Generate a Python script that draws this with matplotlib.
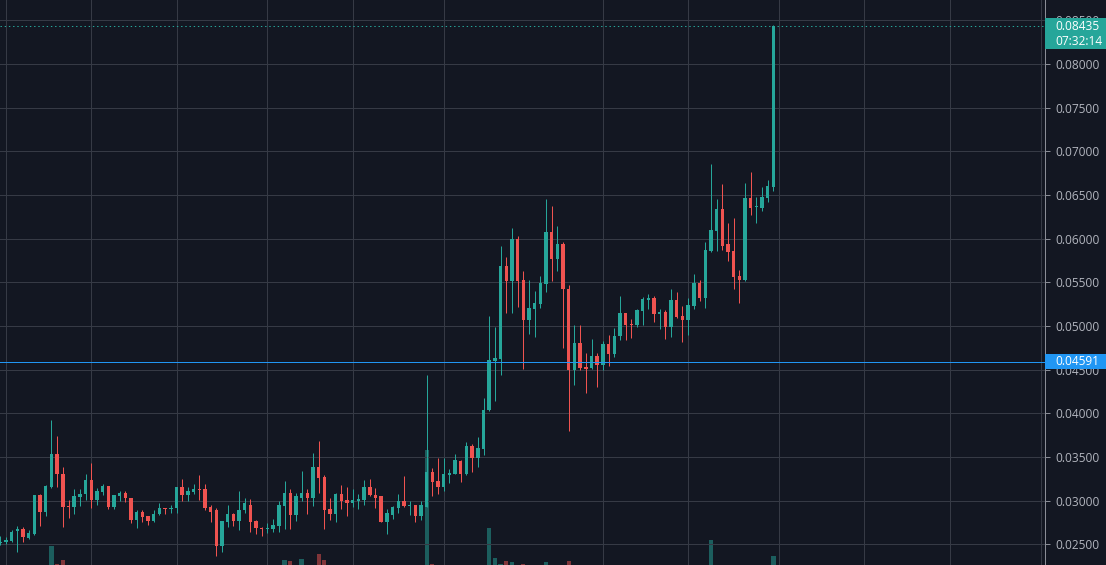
import numpy as np
import matplotlib
matplotlib.use("Agg")
import matplotlib.pyplot as plt
from matplotlib.patches import Rectangle

# daily candles, index 0..136
opens = [
    0.0251, 0.0252, 0.0254, 0.0265, 0.0268, 0.0257, 0.0262, 0.0306, 0.0287, 0.0316,
    0.0353, 0.0331, 0.0294, 0.0293, 0.0304, 0.0307, 0.0324, 0.0301, 0.0310, 0.0317,
    0.0293, 0.0305, 0.0309, 0.0303, 0.0278, 0.0287, 0.0282, 0.0277, 0.0285, 0.0292,
    0.0290, 0.0291, 0.0315, 0.0306, 0.0310, 0.0313, 0.0313, 0.0293, 0.0289, 0.0248,
    0.0276, 0.0285, 0.0277, 0.0289, 0.0295, 0.0277, 0.0269, 0.0267, 0.0268, 0.0271,
    0.0294, 0.0309, 0.0284, 0.0303, 0.0309, 0.0303, 0.0338, 0.0327, 0.0290, 0.0285,
    0.0308, 0.0301, 0.0297, 0.0300, 0.0301, 0.0316, 0.0306, 0.0305, 0.0275, 0.0284,
    0.0292, 0.0300, 0.0294, 0.0295, 0.0282, 0.0293, 0.0333, 0.0322, 0.0315, 0.0329,
    0.0331, 0.0345, 0.0330, 0.0363, 0.0349, 0.0359, 0.0404, 0.0460, 0.0462, 0.0569,
    0.0552, 0.0600, 0.0553, 0.0507, 0.0520, 0.0525, 0.0548, 0.0608, 0.0577, 0.0594,
    0.0542, 0.0450, 0.0481, 0.0453, 0.0452, 0.0466, 0.0455, 0.0479, 0.0468, 0.0489,
    0.0515, 0.0502, 0.0501, 0.0517, 0.0530, 0.0532, 0.0514, 0.0516, 0.0499, 0.0530,
    0.0511, 0.0507, 0.0523, 0.0549, 0.0532, 0.0586, 0.0609, 0.0634, 0.0594, 0.0586,
    0.0557, 0.0553, 0.0647, 0.0636, 0.0635, 0.0647, 0.0659,
]
highs = [
    0.0259, 0.0258, 0.0266, 0.0271, 0.0270, 0.0266, 0.0306, 0.0308, 0.0318, 0.0392,
    0.0374, 0.0339, 0.0301, 0.0313, 0.0313, 0.0331, 0.0343, 0.0314, 0.0319, 0.0317,
    0.0306, 0.0311, 0.0311, 0.0303, 0.0289, 0.0289, 0.0282, 0.0289, 0.0297, 0.0292,
    0.0295, 0.0315, 0.0325, 0.0315, 0.0319, 0.0329, 0.0319, 0.0295, 0.0291, 0.0277,
    0.0295, 0.0286, 0.0311, 0.0303, 0.0302, 0.0278, 0.0270, 0.0274, 0.0279, 0.0300,
    0.0322, 0.0313, 0.0309, 0.0334, 0.0313, 0.0355, 0.0368, 0.0329, 0.0303, 0.0309,
    0.0318, 0.0315, 0.0313, 0.0308, 0.0323, 0.0325, 0.0314, 0.0305, 0.0290, 0.0294,
    0.0307, 0.0328, 0.0300, 0.0295, 0.0300, 0.0444, 0.0337, 0.0349, 0.0349, 0.0336,
    0.0353, 0.0347, 0.0367, 0.0365, 0.0373, 0.0418, 0.0511, 0.0499, 0.0592, 0.0579,
    0.0612, 0.0603, 0.0563, 0.0553, 0.0540, 0.0557, 0.0646, 0.0638, 0.0615, 0.0596,
    0.0547, 0.0501, 0.0501, 0.0469, 0.0485, 0.0469, 0.0483, 0.0490, 0.0498, 0.0534,
    0.0515, 0.0508, 0.0520, 0.0533, 0.0537, 0.0534, 0.0520, 0.0518, 0.0542, 0.0539,
    0.0523, 0.0532, 0.0560, 0.0553, 0.0596, 0.0685, 0.0645, 0.0663, 0.0618, 0.0624,
    0.0564, 0.0664, 0.0676, 0.0648, 0.0659, 0.0667, 0.0845,
]
lows = [
    0.0249, 0.0250, 0.0253, 0.0241, 0.0252, 0.0256, 0.0260, 0.0271, 0.0282, 0.0314,
    0.0315, 0.0270, 0.0280, 0.0285, 0.0294, 0.0301, 0.0291, 0.0295, 0.0306, 0.0290,
    0.0290, 0.0299, 0.0298, 0.0274, 0.0269, 0.0276, 0.0272, 0.0276, 0.0284, 0.0285,
    0.0286, 0.0286, 0.0299, 0.0300, 0.0307, 0.0301, 0.0289, 0.0276, 0.0236, 0.0241,
    0.0270, 0.0271, 0.0266, 0.0286, 0.0264, 0.0262, 0.0259, 0.0263, 0.0264, 0.0264,
    0.0267, 0.0268, 0.0277, 0.0299, 0.0285, 0.0294, 0.0309, 0.0268, 0.0278, 0.0276,
    0.0290, 0.0282, 0.0293, 0.0290, 0.0295, 0.0305, 0.0291, 0.0275, 0.0262, 0.0279,
    0.0286, 0.0293, 0.0283, 0.0275, 0.0278, 0.0293, 0.0305, 0.0308, 0.0311, 0.0320,
    0.0331, 0.0321, 0.0329, 0.0333, 0.0339, 0.0352, 0.0403, 0.0414, 0.0444, 0.0515,
    0.0515, 0.0522, 0.0451, 0.0491, 0.0487, 0.0521, 0.0539, 0.0551, 0.0563, 0.0475,
    0.0380, 0.0432, 0.0449, 0.0423, 0.0451, 0.0430, 0.0449, 0.0454, 0.0465, 0.0484,
    0.0484, 0.0486, 0.0499, 0.0501, 0.0520, 0.0504, 0.0497, 0.0485, 0.0487, 0.0509,
    0.0482, 0.0490, 0.0520, 0.0529, 0.0521, 0.0585, 0.0586, 0.0587, 0.0575, 0.0542,
    0.0526, 0.0552, 0.0627, 0.0618, 0.0632, 0.0642, 0.0655,
]
closes = [
    0.0253, 0.0255, 0.0264, 0.0268, 0.0258, 0.0263, 0.0306, 0.0287, 0.0317, 0.0353,
    0.0330, 0.0293, 0.0293, 0.0305, 0.0307, 0.0324, 0.0301, 0.0311, 0.0317, 0.0293,
    0.0306, 0.0309, 0.0303, 0.0278, 0.0287, 0.0281, 0.0277, 0.0285, 0.0292, 0.0290,
    0.0292, 0.0315, 0.0306, 0.0311, 0.0313, 0.0312, 0.0292, 0.0287, 0.0248, 0.0277,
    0.0285, 0.0277, 0.0289, 0.0297, 0.0276, 0.0269, 0.0267, 0.0269, 0.0272, 0.0295,
    0.0309, 0.0284, 0.0305, 0.0309, 0.0303, 0.0338, 0.0326, 0.0289, 0.0285, 0.0308,
    0.0300, 0.0297, 0.0301, 0.0302, 0.0316, 0.0306, 0.0303, 0.0275, 0.0286, 0.0293,
    0.0300, 0.0294, 0.0295, 0.0282, 0.0295, 0.0333, 0.0321, 0.0315, 0.0330, 0.0332,
    0.0346, 0.0330, 0.0363, 0.0349, 0.0360, 0.0404, 0.0461, 0.0463, 0.0569, 0.0551,
    0.0600, 0.0552, 0.0507, 0.0521, 0.0526, 0.0549, 0.0608, 0.0577, 0.0594, 0.0542,
    0.0450, 0.0481, 0.0452, 0.0451, 0.0466, 0.0455, 0.0479, 0.0468, 0.0489, 0.0515,
    0.0501, 0.0501, 0.0518, 0.0531, 0.0532, 0.0514, 0.0516, 0.0499, 0.0530, 0.0510,
    0.0507, 0.0524, 0.0549, 0.0532, 0.0587, 0.0610, 0.0634, 0.0592, 0.0585, 0.0556,
    0.0553, 0.0647, 0.0635, 0.0637, 0.0648, 0.0660, 0.08435,
]
volumes = [
    0, 0, 0, 0, 0, 0, 0, 0, 0, 19,
    1, 5, 0, 0, 0, 0, 0, 0, 0, 0,
    0, 0, 0, 0, 0, 0, 0, 0, 0, 0,
    0, 0, 0, 0, 0, 0, 0, 0, 0, 0,
    0, 0, 0, 0, 0, 0, 0, 0, 0, 0,
    5, 4, 0, 6, 0, 0, 11, 5, 0, 0,
    0, 0, 0, 0, 0, 0, 0, 0, 0, 0,
    0, 0, 0, 0, 0, 115, 1, 0, 0, 0,
    0, 0, 0, 0, 0, 0, 37, 7, 1, 4,
    3, 0, 1, 0, 0, 0, 3, 0, 0, 0,
    4, 0, 0, 0, 0, 0, 0, 0, 0, 0,
    0, 0, 0, 0, 0, 0, 0, 0, 0, 0,
    0, 0, 0, 0, 0, 25, 0, 0, 0, 0,
    0, 0, 0, 0, 0, 0, 9,
]
# time grid (1st / mid of month) as candle indices
time_grid = [1, 16, 31, 47, 62, 78, 106, 121, 137, 152, 167, 183]
price_ticks = [0.025, 0.030, 0.035, 0.040, 0.045, 0.050, 0.055,
               0.060, 0.065, 0.070, 0.075, 0.080, 0.085]
marked_price = 0.04591
last_price = 0.08435
countdown = "07:32:14"

BG = "#131722"
GRID = "#363a45"
UP = "#26a69a"
DOWN = "#ef5350"
BLUE = "#2196f3"
TXT = "#b2b5be"
PX = 0.72  # one pixel in points

o = np.array(opens)
h = np.array(highs)
l = np.array(lows)
c = np.array(closes)
v = np.array(volumes, dtype=float)
idx = np.arange(len(o))
up = c >= o
cols = np.where(up, UP, DOWN)

plt.rcParams['font.family'] = ['Open Sans', 'DejaVu Sans']

W, H = 1106, 565
fig = plt.figure(figsize=(W / 100, H / 100), dpi=100, facecolor=BG)
axv = fig.add_axes([0, 0, 1045 / W, 1])
ax = fig.add_axes([0, 0, 1045 / W, 1], sharex=axv)

# volume overlay
axv.set_facecolor(BG)
axv.bar(idx, v, width=0.75, color=cols, alpha=0.5, linewidth=0)
axv.set_ylim(0, v.max() / 0.204)
axv.axis('off')

ax.patch.set_visible(False)
ax.set_xlim(-0.05, 183.77)
ax.set_ylim(0.02262, 0.08734)

for x in time_grid:
    ax.axvline(x, color=GRID, lw=PX, zorder=0)
for p in price_ticks:
    ax.axhline(p, color=GRID, lw=PX, zorder=0)

ax.vlines(idx, l, h, colors=cols, lw=PX, zorder=2)
body = np.maximum(np.abs(c - o), 0.00012)
ax.bar(idx, body, bottom=np.minimum(o, c), width=0.6, color=cols,
       linewidth=0, zorder=3)

ax.axhline(marked_price, color=BLUE, lw=PX, zorder=4)
ax.axhline(last_price, color=UP, lw=PX, linestyle=(0, (1.4, 2.8)), zorder=4)

for s in ['top', 'left', 'bottom']:
    ax.spines[s].set_visible(False)
ax.spines['right'].set_color('#8a8d96')
ax.spines['right'].set_linewidth(PX)
ax.set_xticks([])
ax.yaxis.tick_right()
ax.set_yticks(price_ticks)
ax.set_yticklabels([f"{p:.5f}" for p in price_ticks])
ax.tick_params(axis='y', colors=TXT, labelsize=8.6, length=3.5, width=PX,
               pad=4, labelcolor=TXT)
ax.tick_params(axis='y', color='#8a8d96')

# price labels on the scale
for price, color, above, below in [(last_price, UP, 8, 22.6),
                                   (marked_price, BLUE, 8, 7.7)]:
    py = ax.transData.transform((0, price))[1]
    x0 = ax.get_position().x1
    rect = Rectangle((x0, (py - below) / H), 1 - x0, (above + below) / H,
                     transform=fig.transFigure, facecolor=color,
                     edgecolor='none', zorder=5)
    fig.add_artist(rect)
    fig.text(1055 / W, py / H, f"{price:.5f}", color='white', fontsize=8.6,
             va='center', ha='left', zorder=6)
py = ax.transData.transform((0, last_price))[1]
fig.text(1055 / W, (py - 15) / H, countdown, color='white', fontsize=8.6,
         va='center', ha='left', zorder=6)

fig.savefig('out.png', dpi=100, facecolor=BG)
